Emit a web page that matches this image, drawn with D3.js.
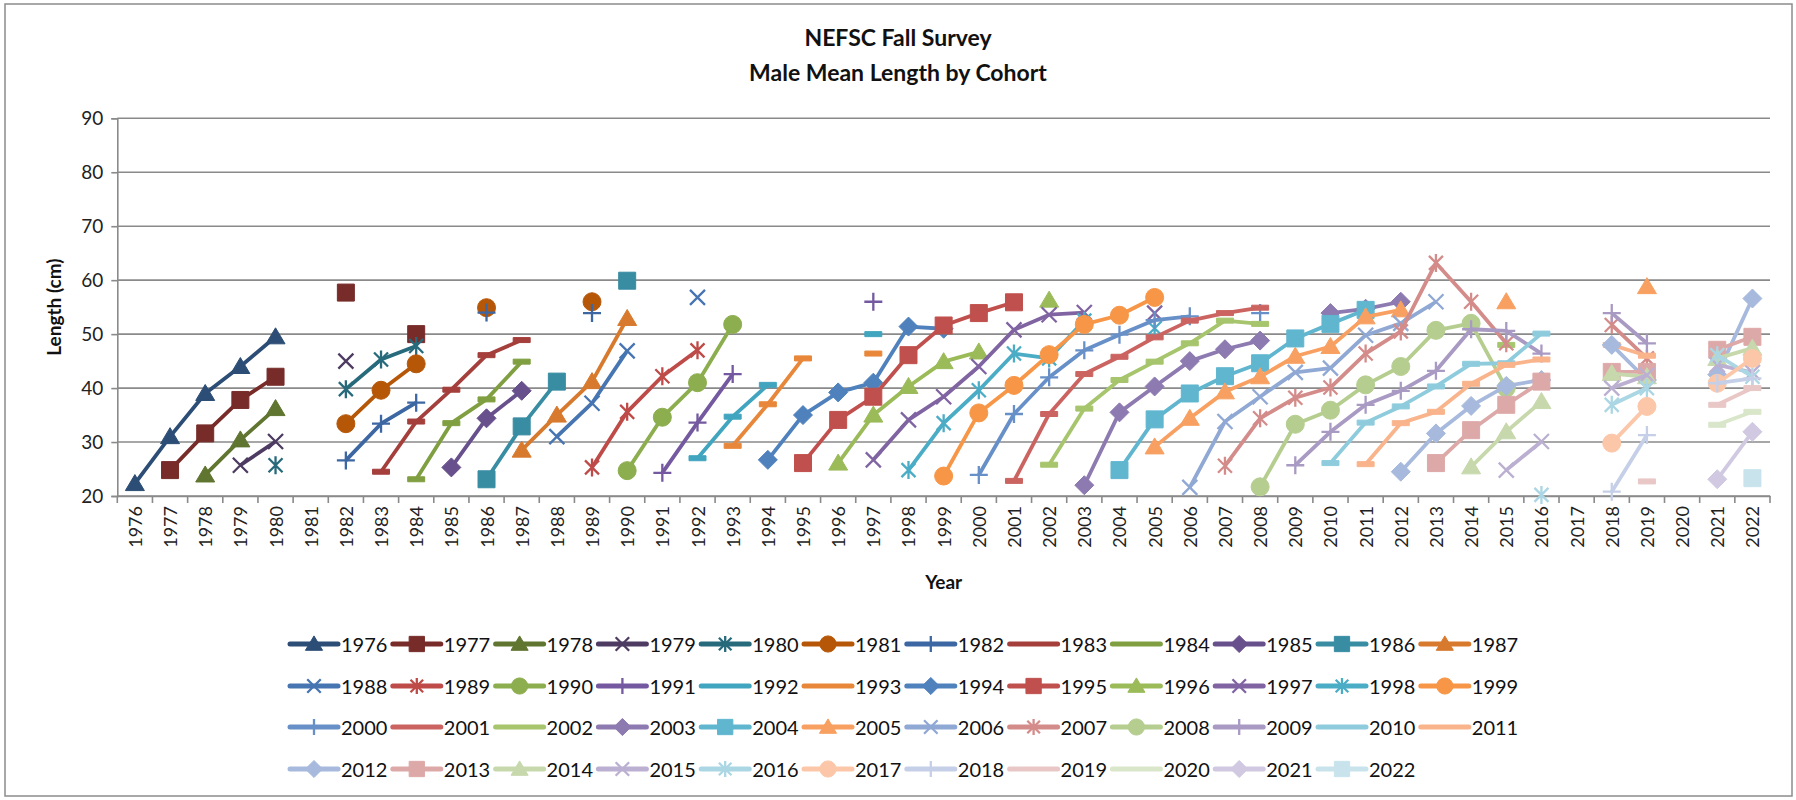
<!DOCTYPE html>
<html>
<head>
<meta charset="utf-8">
<script src="https://cdn.jsdelivr.net/npm/d3@7"></script>
<style>
  body { margin: 0; background: #fff; }
  svg { font-family: Lato, "Open Sans", sans-serif; }
</style>
</head>
<body>
<div id="chart-container"></div>
<script>
// Survey years on the x axis (category axis)
const years = d3.range(1976, 2023).map(String);
// One series per cohort
const cohorts = d3.range(1976, 2023);
const yTicks = [20, 30, 40, 50, 60, 70, 80, 90];

// Mean length (cm) per cohort; first value is the cohort's own year, null = no data
const meanLength = [
  [22.3, 31.0, 39.0, 44.0, 49.5],                               // 1976
  [24.8, 31.6, 37.8, 42.1, null, 57.7, null, 50.0],             // 1977
  [23.9, 30.4, 36.2],                                           // 1978
  [25.7, 30.1, null, 45.0],                                     // 1979
  [25.7, null, 39.8, 45.3, 47.8],                               // 1980
  [null, 33.4, 39.6, 44.5, null, 54.9, null, null, 56.0],       // 1981
  [26.6, 33.4, 37.3, null, 54.0, null, null, 53.9],             // 1982
  [24.5, 33.8, 39.7, 46.1, 48.9],                               // 1983
  [23.1, 33.5, 37.9, 44.9],                                     // 1984
  [25.3, 34.4, 39.5],                                           // 1985
  [23.1, 32.9, 41.2, null, 59.9],                               // 1986
  [28.5, 35.0, 41.2, 52.9],                                     // 1987
  [31.0, 37.2, 46.9, null, 56.8],                               // 1988
  [25.3, 35.6, 42.2, 47.0],                                     // 1989
  [24.7, 34.6, 41.0, 51.8],                                     // 1990
  [24.3, 33.6, 42.6, null, null, null, 56.0],                   // 1991
  [27.0, 34.7, 40.6, null, null, 50.0],                         // 1992
  [29.3, 37.0, 45.5, null, 46.4],                               // 1993
  [26.7, 35.0, 39.2, 41.0, 51.4, 51.0],                         // 1994
  [26.1, 34.1, 38.4, 46.1, 51.6, 53.9, 55.9],                   // 1995
  [26.1, 35.0, 40.3, 44.9, 46.7, null, 56.3],                   // 1996
  [26.7, 34.1, 38.4, 44.0, 50.8, 53.6, 54.0, null, 53.9],       // 1997
  [24.8, 33.5, 39.6, 46.4, 45.5, 52.5, null, 51.1],             // 1998
  [23.7, 35.4, 40.5, 46.2, 51.8, 53.5, 56.8],                   // 1999
  [23.9, 35.2, 42.0, 47.0, 49.9, 52.6, 53.3, null, 53.9],       // 2000
  [22.8, 35.2, 42.6, 45.8, 49.4, 52.5, 53.9, 54.9],             // 2001
  [25.8, 36.2, 41.5, 44.9, 48.3, 52.5, 51.9, null, null, null, null, null, null, 48.0], // 2002
  [22.0, 35.5, 40.3, 45.0, 47.2, 48.8, null, 53.9, 54.7, 56.0], // 2003
  [24.8, 34.2, 39.0, 42.2, 44.6, 49.2, 51.9, 54.5],             // 2004
  [29.1, 34.4, 39.3, 42.1, 45.9, 47.7, 53.2, 54.5, null, null, 56.0, null, null, null, 58.8], // 2005
  [21.6, 33.8, 38.4, 42.9, 43.7, 49.8, 52.0, 56.0],             // 2006
  [25.6, 34.4, 38.2, 40.1, 46.4, 50.5, 63.2, 56.0, 48.3, null, null, 51.7, 45.5], // 2007
  [21.7, 33.3, 35.9, 40.6, 44.0, 50.7, 52.0, 40.0],             // 2008
  [25.7, 31.9, 36.9, 39.5, 43.2, 50.9, 50.6, 46.4, null, 53.9, 48.3], // 2009
  [26.1, 33.6, 36.6, 40.3, 44.5, 44.6, 50.1],                   // 2010
  [25.9, 33.5, 35.6, 40.8, 44.3, 45.3, null, 48.0, 46.0],       // 2011
  [24.5, 31.6, 36.7, 40.4, 41.5, null, 48.0, 41.5, null, 42.5, 56.6], // 2012
  [26.1, 32.2, 36.9, 41.2, null, 43.0, 43.0, null, 47.1, 49.5], // 2013
  [25.4, 31.9, 37.5, null, 42.7, 42.1, null, 45.5, 47.4],       // 2014
  [24.8, 30.1, null, 40.0, 42.4, null, 44.3, 42.9],             // 2015
  [20.2, null, 36.9, 40.0, null, 46.1, 42.1],                   // 2016
  [null, 29.8, 36.6, null, 40.9, 45.5],                         // 2017
  [20.8, 31.3, null, 40.9, 41.8],                               // 2018
  [22.7, null, 36.9, 40.0],                                     // 2019
  [null, 33.2, 35.6],                                           // 2020
  [23.1, 31.9],                                                 // 2021
  [23.3]                                                        // 2022
];

const seriesColors = [
  "#2C4D75", "#772C2A", "#5F7530", "#4D3B62", "#276A7C", "#B65708",
  "#3C67A3", "#A43F3C", "#809F41", "#68508C", "#388DA3", "#D87A2E",
  "#4675B2", "#BE4B48", "#8CAE4E", "#7459A0", "#41A5BF", "#E8873A",
  "#4F81BD", "#C0504D", "#9BBB59", "#8064A2", "#4BACC6", "#F79646",
  "#6890C8", "#CB6461", "#A6C56C", "#8D7AB0", "#60B6CF", "#F8A061",
  "#8FA8D4", "#D48C8A", "#B5CE8F", "#A99AC4", "#8ECCDD", "#F9B48C",
  "#A7BADD", "#DDA9A8", "#C7D9AC", "#BBB0D1", "#ABD6E4", "#FBC7A8",
  "#C5D0E8", "#E8C7C6", "#D9E6C9", "#D0C9E1", "#C8E3EC"
];

const markerCycle = ["diamond", "square", "triangle", "x", "star", "circle", "plus", "dash", "dash"];
const seriesMarkers = cohorts.map((c, i) => i === 0 ? "triangle" : markerCycle[i % 9]);

const width = 1796;
const height = 800;
const margin = { top: 118.3, right: 26, bottom: 304, left: 117.3 };

const svg = d3.select("#chart-container")
  .append("svg")
  .attr("width", width)
  .attr("height", height);

// chart border
svg.append("rect")
  .attr("x", 5).attr("y", 4)
  .attr("width", 1787).attr("height", 792)
  .attr("fill", "#fff")
  .attr("stroke", "#8c8c8c")
  .attr("stroke-width", 1.5);

const xScale = d3.scaleBand()
  .domain(years)
  .range([margin.left, width - margin.right])
  .padding(0);

const yScale = d3.scaleLinear()
  .domain([20, 90])
  .range([height - margin.bottom, margin.top]);

// gridlines
svg.append("g")
  .selectAll("line")
  .data(yTicks)
  .enter()
  .append("line")
  .attr("x1", margin.left)
  .attr("x2", width - margin.right)
  .attr("y1", d => yScale(d))
  .attr("y2", d => yScale(d))
  .attr("stroke", "#8a8a8a")
  .attr("stroke-width", 1.6);

// Y axis
const yAxis = svg.append("g")
  .attr("transform", `translate(${margin.left}, 0)`)
  .call(d3.axisLeft(yScale).tickValues(yTicks).tickSize(6).tickPadding(8));
yAxis.select(".domain").attr("stroke", "#8a8a8a").attr("stroke-width", 1.6);
yAxis.selectAll(".tick line").attr("stroke", "#8a8a8a").attr("stroke-width", 1.6);
yAxis.selectAll(".tick text")
  .attr("font-size", 19)
  .attr("font-family", "Lato, sans-serif")
  .attr("fill", "#222");

// X axis
const xAxis = svg.append("g")
  .attr("transform", `translate(0, ${height - margin.bottom})`)
  .call(d3.axisBottom(xScale).tickSize(0));
xAxis.select(".domain").attr("stroke", "#8a8a8a").attr("stroke-width", 1.6);
xAxis.selectAll(".tick text")
  .attr("font-size", 18)
  .attr("font-family", "Lato, sans-serif")
  .attr("fill", "#222")
  .attr("text-anchor", "end")
  .attr("dy", null)
  .attr("y", 0)
  .attr("transform", "translate(0, 10) rotate(-90)")
  .attr("dominant-baseline", "central");

// category boundary ticks
svg.append("g")
  .selectAll("line")
  .data(years.concat(["end"]))
  .enter()
  .append("line")
  .attr("x1", (d, i) => margin.left + i * xScale.bandwidth())
  .attr("x2", (d, i) => margin.left + i * xScale.bandwidth())
  .attr("y1", height - margin.bottom)
  .attr("y2", height - margin.bottom + 7)
  .attr("stroke", "#8a8a8a")
  .attr("stroke-width", 1.6);

// marker shapes
function markerPath(type, k) {
  const s = k || 1;
  switch (type) {
    case "triangle": return `M0,${-9 * s}L${9.5 * s},${7 * s}L${-9.5 * s},${7 * s}Z`;
    case "square": return `M${-8.5 * s},${-8.5 * s}h${17 * s}v${17 * s}h${-17 * s}Z`;
    case "diamond": return `M0,${-9.5 * s}L${9.5 * s},0L0,${9.5 * s}L${-9.5 * s},0Z`;
    case "circle": return d3.arc()({ innerRadius: 0, outerRadius: 9 * s, startAngle: 0, endAngle: 2 * Math.PI });
    case "x": return `M${-7.5 * s},${-7.5 * s}L${7.5 * s},${7.5 * s}M${7.5 * s},${-7.5 * s}L${-7.5 * s},${7.5 * s}`;
    case "star": return `M${-7 * s},${-7 * s}L${7 * s},${7 * s}M${7 * s},${-7 * s}L${-7 * s},${7 * s}M0,${-9 * s}V${9 * s}`;
    case "plus": return `M${-9 * s},0H${9 * s}M0,${-9 * s}V${9 * s}`;
    case "dash": return `M${-8.5 * s},${-2.5 * s}h${17 * s}v${5 * s}h${-17 * s}Z`;
  }
}
const strokeMarkers = ["x", "star", "plus"];

function drawMarker(g, type, color, k) {
  const filled = !strokeMarkers.includes(type);
  g.append("path")
    .attr("d", markerPath(type, k))
    .attr("fill", filled ? color : "none")
    .attr("stroke", color)
    .attr("stroke-width", filled ? 1 : 2.3);
}

const line = d3.line()
  .defined(d => d.v !== null)
  .x(d => xScale(d.year) + xScale.bandwidth() / 2)
  .y(d => yScale(d.v));

// series
const plot = svg.append("g");
cohorts.forEach((c, k) => {
  const pts = meanLength[k].map((v, i) => ({ year: String(c + i), v: v }));
  const color = seriesColors[k];
  const g = plot.append("g");
  g.append("path")
    .datum(pts)
    .attr("d", line)
    .attr("fill", "none")
    .attr("stroke", color)
    .attr("stroke-width", 3.8)
    .attr("stroke-linejoin", "round");
  pts.filter(d => d.v !== null).forEach(d => {
    const m = g.append("g")
      .attr("transform", `translate(${xScale(d.year) + xScale.bandwidth() / 2}, ${yScale(d.v)})`);
    drawMarker(m, seriesMarkers[k], color, 1);
  });
});

// titles
svg.append("text")
  .attr("x", width / 2).attr("y", 46)
  .attr("text-anchor", "middle")
  .attr("font-size", 23).attr("font-weight", "bold").attr("fill", "#111")
  .text("NEFSC Fall Survey");
svg.append("text")
  .attr("x", width / 2).attr("y", 81)
  .attr("text-anchor", "middle")
  .attr("font-size", 23).attr("font-weight", "bold").attr("fill", "#111")
  .text("Male Mean Length by Cohort");

svg.append("text")
  .attr("transform", `translate(53, ${(yScale(20) + yScale(90)) / 2}) rotate(-90)`)
  .attr("text-anchor", "middle")
  .attr("dominant-baseline", "central")
  .attr("font-size", 19).attr("font-weight", "bold").attr("fill", "#111")
  .text("Length (cm)");

svg.append("text")
  .attr("x", (margin.left + width - margin.right) / 2)
  .attr("y", 581)
  .attr("text-anchor", "middle")
  .attr("dominant-baseline", "central")
  .attr("font-size", 19).attr("font-weight", "bold").attr("fill", "#111")
  .text("Year");

// legend
const legendRows = [644, 686, 727, 769];
const legend = svg.append("g");
cohorts.forEach((c, k) => {
  const row = Math.floor(k / 12);
  const col = k % 12;
  const g = legend.append("g")
    .attr("transform", `translate(${290 + col * 102.8}, ${legendRows[row]})`);
  g.append("line")
    .attr("x1", 0).attr("x2", 48)
    .attr("stroke", seriesColors[k])
    .attr("stroke-width", 5)
    .attr("stroke-linecap", "round");
  const m = g.append("g").attr("transform", "translate(24, 0)");
  if (seriesMarkers[k] !== "dash") drawMarker(m, seriesMarkers[k], seriesColors[k], 0.9);
  g.append("text")
    .attr("x", 51)
    .attr("dominant-baseline", "central")
    .attr("font-size", 20)
    .attr("fill", "#111")
    .text(c);
});
</script>
</body>
</html>
